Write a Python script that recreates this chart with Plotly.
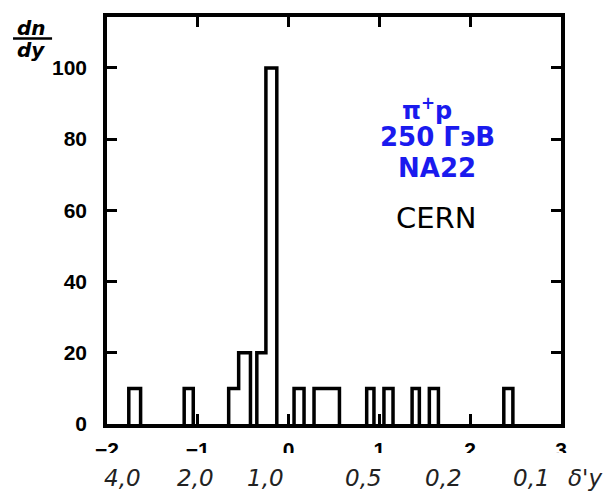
import plotly.graph_objects as go

# ---- data ----
bin_left = [-1.76, -1.15, -0.66, -0.55, -0.35, -0.25, 0.06, 0.28, 0.86, 1.05, 1.36, 1.55, 2.37]
bin_right = [-1.63, -1.05, -0.55, -0.42, -0.25, -0.13, 0.17, 0.56, 0.94, 1.15, 1.44, 1.65, 2.47]
counts = [10, 10, 10, 20, 20, 100, 10, 10, 10, 10, 10, 10, 10]

x_ticks = [-2, -1, 0, 1, 2, 3]
y_ticks = [0, 20, 40, 60, 80, 100]

dy_labels = ["4,0", "2,0", "1,0", "0,5", "0,2", "0,1"]
dy_values = [-1.83, -1.02, -0.25, 0.83, 1.71, 2.68]

# ---- build outline path of the histogram ----
px, py = [], []
prev_right = None
for l, r, h in zip(bin_left, bin_right, counts):
    if prev_right is not None and abs(l - prev_right) < 1e-9:
        px += [l, r]
        py += [h, h]
    else:
        if prev_right is not None:
            px += [prev_right, None]
            py += [0, None]
        px += [l, l, r]
        py += [0, h, h]
    prev_right = r
px.append(prev_right)
py.append(0)

fig = go.Figure()
fig.add_trace(go.Scatter(
    x=px, y=py, mode="lines",
    line=dict(color="black", width=3.5),
    cliponaxis=False, showlegend=False, hoverinfo="skip",
))

axis_common = dict(
    showline=True, linecolor="black", linewidth=3.5, mirror="ticks",
    ticks="inside", ticklen=10, tickwidth=3, tickcolor="black",
    showgrid=False, zeroline=False,
)
tick_font = dict(family="Liberation Sans Narrow, Liberation Sans", size=21,
                 color="black", weight="bold")

fig.update_layout(
    width=607, height=494,
    margin=dict(l=107, r=46, t=17, b=70),
    paper_bgcolor="white", plot_bgcolor="white",
    xaxis=dict(range=[-2, 3], tickvals=x_ticks, ticklabelstandoff=4,
               tickfont=tick_font, **axis_common),
    yaxis=dict(range=[0, 114.3], tickvals=y_ticks, ticklabelstandoff=12,
               tickfont=tick_font, **axis_common),
)

# white band hiding the lower half of the x tick labels (as in the scan)
fig.add_shape(type="rect", xref="paper", yref="paper",
              x0=-0.3, x1=1.2, y0=-0.25, y1=-0.071,
              fillcolor="white", line=dict(width=0), layer="above")

# second row of italic labels
ital = dict(family="DejaVu Sans", size=23, color="#222222", style="italic", weight=200)
for lab, v in zip(dy_labels, dy_values):
    fig.add_annotation(x=v, y=-0.133, xref="x", yref="paper", text=lab,
                       xanchor="center", yanchor="middle", showarrow=False, font=ital)
fig.add_annotation(x=1.052, y=-0.133, xref="paper", yref="paper", text="δ'y",
                   xanchor="center", yanchor="middle", showarrow=False, font=ital)

# dn/dy label
lab_font = dict(family="DejaVu Sans", size=20, color="black")
fig.add_annotation(x=-0.167, y=0.974, xref="paper", yref="paper", text="<b><i>dn</i></b>",
                   xanchor="center", yanchor="middle", showarrow=False, font=lab_font)
fig.add_annotation(x=-0.167, y=0.920, xref="paper", yref="paper", text="<b><i>dy</i></b>",
                   xanchor="center", yanchor="middle", showarrow=False, font=lab_font)
fig.add_shape(type="line", xref="paper", yref="paper", x0=-0.207, x1=-0.121,
              y0=0.947, y1=0.947, line=dict(color="black", width=2.5))

# experiment labels
blue = "#1a1aee"
ann = dict(xref="paper", yref="paper", xanchor="center", yanchor="middle", showarrow=False)
fig.add_annotation(x=0.705, y=0.775, text="<b>π<sup>+</sup>p</b>",
                   font=dict(family="DejaVu Sans", size=24, color=blue), **ann)
fig.add_annotation(x=0.727, y=0.705, text="<b>250 ГэВ</b>",
                   font=dict(family="DejaVu Sans", size=26, color=blue), **ann)
fig.add_annotation(x=0.727, y=0.628, text="<b>NA22</b>",
                   font=dict(family="DejaVu Sans", size=26, color=blue), **ann)
fig.add_annotation(x=0.725, y=0.506, text="CERN",
                   font=dict(family="DejaVu Sans", size=29, color="black"), **ann)

fig.write_html("out.html")
